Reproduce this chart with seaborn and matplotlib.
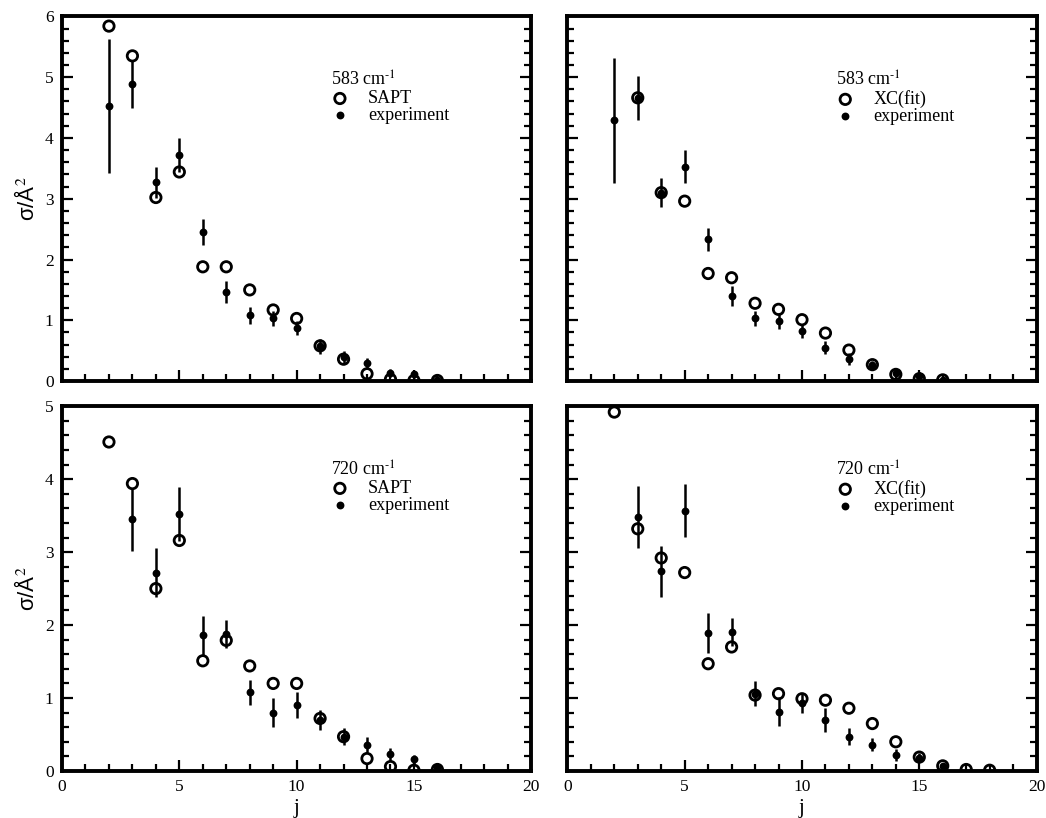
import numpy as np
import pandas as pd
import matplotlib
matplotlib.use("Agg")
import matplotlib.pyplot as plt
import seaborn as sns

nan = np.nan

# rotational level j for each panel
j_583 = list(range(2, 17))
j_720_sapt = list(range(2, 17))
j_720_xc = list(range(2, 19))

# 583 cm-1, SAPT panel
sapt_583 = [5.84, 5.35, 3.02, 3.44, 1.88, 1.88, 1.50, 1.17, 1.03, 0.58, 0.36, 0.12, 0.03, 0.01, 0.01]
exp_583_a = [4.52, 4.89, 3.27, 3.72, 2.45, 1.47, 1.08, 1.03, 0.87, 0.57, 0.40, 0.30, 0.13, 0.11, 0.02]
err_583_a = [1.10, 0.40, 0.26, 0.28, 0.21, 0.18, 0.14, 0.13, 0.12, 0.12, 0.10, 0.08, 0.07, 0.06, 0.02]

# 583 cm-1, XC(fit) panel
xc_583 = [nan, 4.66, 3.10, 2.96, 1.77, 1.70, 1.28, 1.18, 1.01, 0.79, 0.51, 0.27, 0.11, 0.04, 0.02]
exp_583_b = [4.29, 4.66, 3.10, 3.53, 2.33, 1.40, 1.03, 0.99, 0.82, 0.55, 0.37, 0.27, 0.13, 0.09, 0.01]
err_583_b = [1.03, 0.36, 0.24, 0.27, 0.19, 0.17, 0.13, 0.13, 0.11, 0.11, 0.10, 0.06, 0.06, 0.06, 0.02]

# 720 cm-1, SAPT panel
sapt_720 = [4.51, 3.94, 2.50, 3.16, 1.51, 1.79, 1.44, 1.20, 1.20, 0.72, 0.47, 0.17, 0.06, 0.01, 0.02]
exp_720_a = [nan, 3.45, 2.72, 3.52, 1.86, 1.88, 1.08, 0.80, 0.90, 0.70, 0.47, 0.36, 0.23, 0.16, 0.05]
err_720_a = [nan, 0.43, 0.33, 0.37, 0.27, 0.19, 0.17, 0.20, 0.18, 0.14, 0.12, 0.10, 0.08, 0.06, 0.03]

# 720 cm-1, XC(fit) panel
xc_720 = [4.92, 3.32, 2.92, 2.72, 1.47, 1.70, 1.04, 1.06, 0.99, 0.97, 0.86, 0.65, 0.40, 0.19, 0.07, 0.02, 0.01]
exp_720_b = [nan, 3.48, 2.74, 3.57, 1.89, 1.91, 1.06, 0.81, 0.93, 0.70, 0.47, 0.36, 0.22, 0.18, 0.07, nan, nan]
err_720_b = [nan, 0.43, 0.35, 0.36, 0.27, 0.19, 0.17, 0.20, 0.14, 0.16, 0.12, 0.09, 0.08, 0.06, 0.03, nan, nan]

panels = [
    (j_583, sapt_583, exp_583_a, err_583_a, "SAPT", r"583 cm$^{\text{-1}}$"),
    (j_583, xc_583, exp_583_b, err_583_b, "XC(fit)", r"583 cm$^{\text{-1}}$"),
    (j_720_sapt, sapt_720, exp_720_a, err_720_a, "SAPT", r"720 cm$^{\text{-1}}$"),
    (j_720_xc, xc_720, exp_720_b, err_720_b, "XC(fit)", r"720 cm$^{\text{-1}}$"),
]

sns.set_theme(style="ticks")
plt.rcParams["font.family"] = ["Liberation Serif", "DejaVu Serif"]
plt.rcParams["mathtext.fontset"] = "stix"
plt.rcParams["axes.linewidth"] = 2.8
plt.rcParams["axes.edgecolor"] = "black"
plt.rcParams["xtick.color"] = "black"
plt.rcParams["ytick.color"] = "black"
plt.rcParams["text.color"] = "black"
plt.rcParams["axes.labelcolor"] = "black"

fig, axes = plt.subplots(2, 2, figsize=(10.46, 8.18), dpi=100, sharex="col", sharey="row")
fig.subplots_adjust(left=0.0593, right=0.991, top=0.980, bottom=0.0575, wspace=0.077, hspace=0.069)

for ax, (j, theory, expt, err, name, title) in zip(axes.flat, panels):
    df = pd.DataFrame({"j": j, "theory": theory, "expt": expt, "err": err})
    sns.scatterplot(data=df, x="j", y="theory", ax=ax, marker="o", s=56,
                    facecolors="none", edgecolor="black", linewidth=2.0,
                    label=name, zorder=3)
    ax.errorbar(df["j"], df["expt"], yerr=df["err"], fmt="none", ecolor="black",
                elinewidth=1.8, capsize=0, zorder=4)
    sns.scatterplot(data=df, x="j", y="expt", ax=ax, marker="o", s=32,
                    color="black", edgecolor="black", linewidth=0,
                    label="experiment", zorder=5)
    ax.legend(title=title, loc="upper left", bbox_to_anchor=(0.573, 0.850),
              frameon=False, alignment="left", fontsize=13, title_fontsize=13,
              handlelength=1.0, handletextpad=1.05, labelspacing=0.0,
              borderpad=0, borderaxespad=0)
    ax.set_xlim(0, 20)
    ax.set_xticks(np.arange(0, 21, 5))
    ax.set_xticks(np.arange(0, 21, 1), minor=True)
    ax.tick_params(axis="both", which="both", direction="in", right=True, top=False,
                   labelsize=12.5, pad=6)
    ax.tick_params(which="major", length=8, width=1.6)
    ax.tick_params(which="minor", length=5, width=1.6)
    ax.set_xlabel("")
    ax.set_ylabel("")

for ax in axes[0]:
    ax.set_ylim(0, 6)
    ax.set_yticks(np.arange(0, 7, 1))
    ax.set_yticks(np.arange(0, 6.01, 0.2), minor=True)
for ax in axes[1]:
    ax.set_ylim(0, 5)
    ax.set_yticks(np.arange(0, 6, 1))
    ax.set_yticks(np.arange(0, 5.01, 0.2), minor=True)

for ax in axes[:, 0]:
    ax.set_ylabel("σ/Å$^{2}$", family=["Liberation Sans", "DejaVu Sans"], fontsize=16, labelpad=4)
for ax in axes[1]:
    ax.set_xlabel("j", fontsize=15, labelpad=3)

fig.savefig("out.png", dpi=100)
